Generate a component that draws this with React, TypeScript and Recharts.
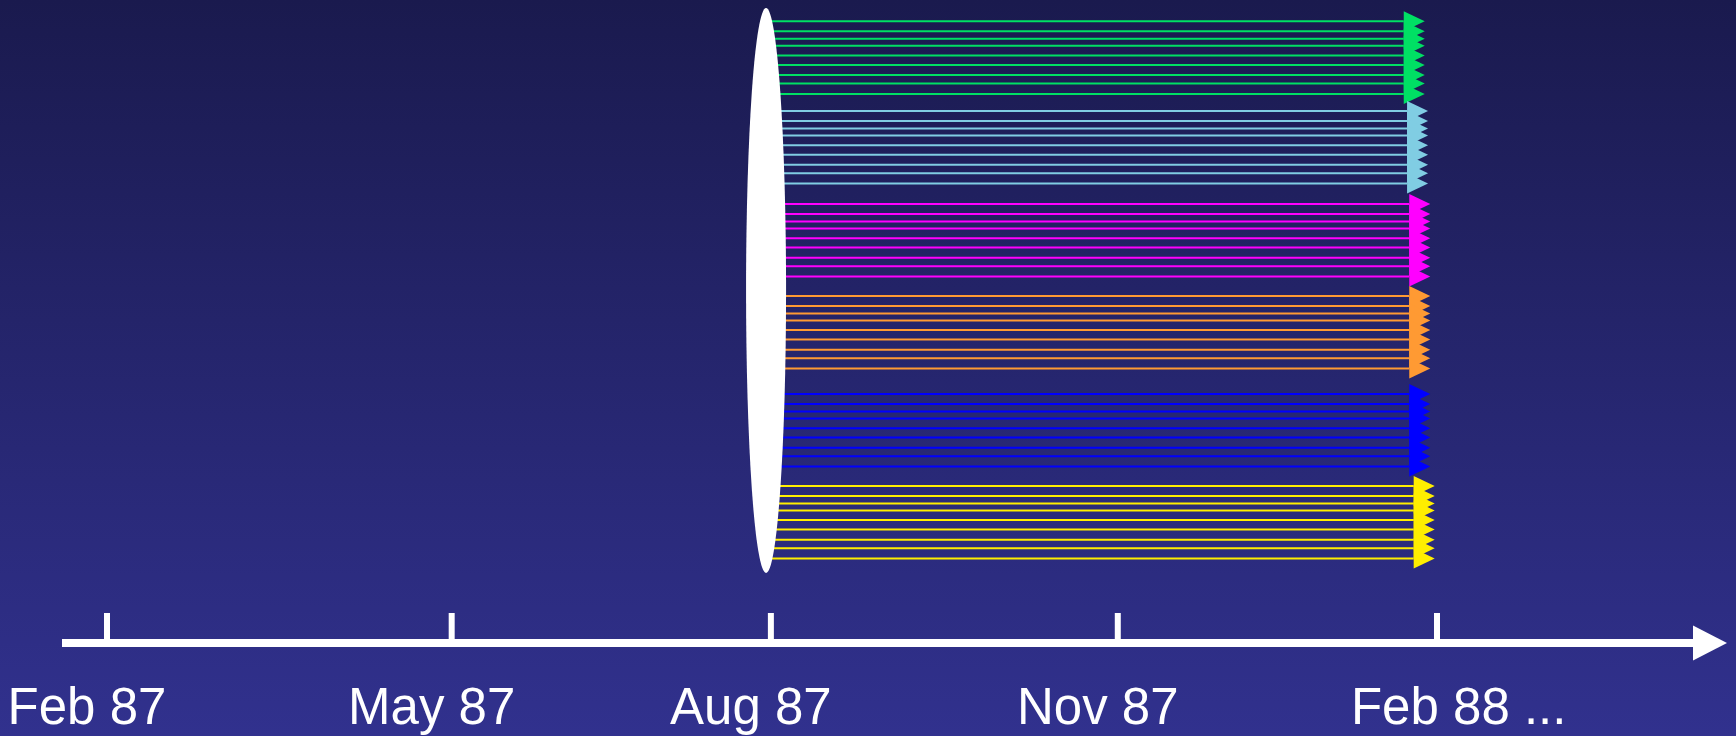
import React from "react";
import {
  ComposedChart,
  Line,
  XAxis,
  YAxis,
  ReferenceArea,
  ReferenceDot,
} from "recharts";

const tickMonths = [0, 3.11, 5.99, 9.12, 12];
const tickLabels = ["Feb 87", "May 87", "Aug 87", "Nov 87", "Feb 88 ..."];

// six bundles of nine streams, top to bottom (rows measured in bundle spacing)
const bundleColors = ["#00e064", "#80cde3", "#ff00ff", "#ff9a33", "#0000ff", "#ffee00"];
const bundleTops = [0, 0.969, 1.973, 2.966, 4.025, 5.018];
const laneOffsets = [0, 0.108, 0.189, 0.265, 0.369, 0.471, 0.581, 0.672, 0.784];
const bundleEnds = [11.7, 11.73, 11.75, 11.75, 11.75, 11.79];
const streamStart = 5.946;

// the white lens the streams come out of
const lensMonths = [5.766, 6.127];
const lensRows = [-0.144, 5.958];

const monthDomain = [-0.406, 14.31];
const rowDomain = [-0.23, 6.714];

const streams = bundleColors.flatMap((color, b) =>
  laneOffsets.map((off, i) => ({
    id: `s${b}-${i}`,
    color,
    data: [
      { x: streamStart, y: bundleTops[b] + off },
      { x: bundleEnds[b], y: bundleTops[b] + off },
    ],
  }))
);

const FONT = "'Liberation Sans', Arial, sans-serif";

function AxisTick(props: any) {
  const { x, y, index } = props;
  const label = tickLabels[index] ?? "";
  const last = label.endsWith("...");
  return (
    <g>
      <line x1={x} x2={x} y1={y - 30} y2={y} stroke="#fff" strokeWidth={6} />
      <text
        x={last ? x - 86 : x - 20}
        y={y + 81}
        textAnchor={last ? "start" : "middle"}
        fill="#fff"
        fontSize={51}
        fontFamily={FONT}
      >
        {label}
      </text>
    </g>
  );
}

function arrowHead(color: string) {
  return (p: any) => {
    if (p.index !== 1) return <g key={`d${p.index}`} />;
    const { cx, cy } = p;
    return (
      <polygon
        key={`d${p.index}`}
        points={`${cx},${cy - 10} ${cx + 21},${cy} ${cx},${cy + 10}`}
        fill={color}
      />
    );
  };
}

export default function App() {
  return (
    <div
      style={{
        position: "absolute",
        left: 0,
        top: 0,
        width: 1736,
        height: 736,
        background: "linear-gradient(to bottom, #1a1a4e 0%, #31318e 100%)",
      }}
    >
      <ComposedChart
        width={1736}
        height={736}
        margin={{ top: 0, right: 43, bottom: 0, left: 62 }}
      >
        <XAxis
          type="number"
          dataKey="x"
          domain={monthDomain}
          ticks={tickMonths}
          interval={0}
          allowDataOverflow
          height={93}
          axisLine={{ stroke: "#fff", strokeWidth: 8 }}
          tickLine={false}
          tickSize={0}
          tickMargin={0}
          tick={<AxisTick />}
        />
        <YAxis type="number" domain={rowDomain} reversed hide width={0} allowDataOverflow />
        {streams.map((s) => (
          <Line
            key={s.id}
            data={s.data}
            dataKey="y"
            stroke={s.color}
            strokeWidth={2}
            dot={arrowHead(s.color)}
            activeDot={false}
            isAnimationActive={false}
          />
        ))}
        <ReferenceArea
          x1={lensMonths[0]}
          x2={lensMonths[1]}
          y1={lensRows[0]}
          y2={lensRows[1]}
          ifOverflow="visible"
          zIndex={900}
          shape={(p: any) => (
            <ellipse
              cx={p.x + p.width / 2}
              cy={p.y + p.height / 2}
              rx={p.width / 2}
              ry={p.height / 2}
              fill="#ffffff"
            />
          )}
        />
        <ReferenceDot
          x={monthDomain[1]}
          y={rowDomain[1]}
          ifOverflow="visible"
          shape={(p: any) => (
            <polygon
              points={`${p.cx},${p.cy - 17.5} ${p.cx + 34},${p.cy} ${p.cx},${p.cy + 17.5}`}
              fill="#ffffff"
            />
          )}
        />
      </ComposedChart>
    </div>
  );
}
